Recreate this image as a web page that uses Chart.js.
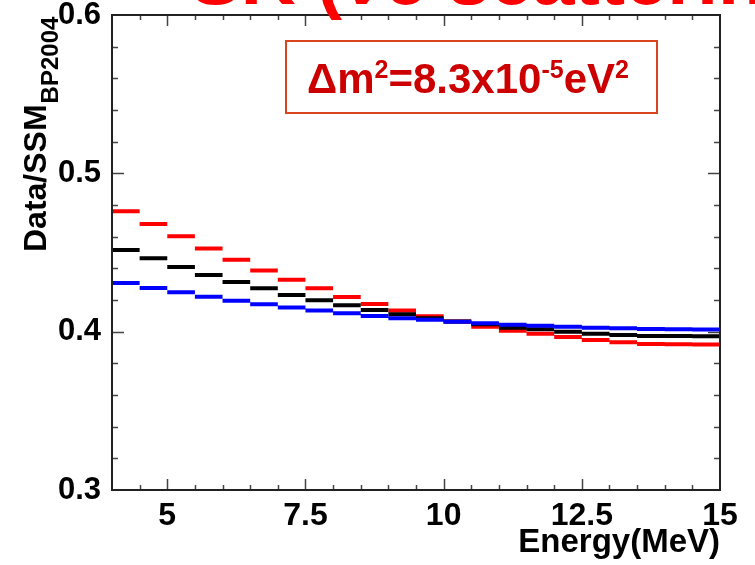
<!DOCTYPE html>
<html>
<head>
<meta charset="utf-8">
<script src="https://cdn.jsdelivr.net/npm/chart.js@4.4.0/dist/chart.umd.min.js"></script>
<style>
  html, body { margin: 0; padding: 0; background: #fff; }
</style>
</head>
<body>
<canvas id="c" width="755" height="565"></canvas>
<script>
// bins of 0.5 MeV, low edges
const binLow = [4, 4.5, 5, 5.5, 6, 6.5, 7, 7.5, 8, 8.5, 9, 9.5, 10, 10.5, 11, 11.5, 12, 12.5, 13, 13.5, 14, 14.5];
const binWidth = 0.5;

const redValues = [0.4760, 0.4680, 0.4602, 0.4526, 0.4455, 0.4387, 0.4328, 0.4274, 0.4219, 0.4175, 0.4133,
                   0.4097, 0.4065, 0.4031, 0.4006, 0.3987, 0.3966, 0.3947, 0.3933, 0.3922, 0.3920, 0.3919];
const blackValues = [0.4516, 0.4463, 0.4408, 0.4358, 0.4314, 0.4274, 0.4232, 0.4198, 0.4167, 0.4137, 0.4110,
                     0.4085, 0.4065, 0.4047, 0.4025, 0.4015, 0.4000, 0.3987, 0.3979, 0.3973, 0.3972, 0.3971];
const blueValues = [0.4307, 0.4276, 0.4249, 0.4221, 0.4196, 0.4173, 0.4152, 0.4133, 0.4116, 0.4099, 0.4084,
                    0.4076, 0.4063, 0.4053, 0.4044, 0.4038, 0.4031, 0.4025, 0.4021, 0.4017, 0.4015, 0.4013];

const xTicks = [5, 7.5, 10, 12.5, 15];
const xTickLabels = ['5', '7.5', '10', '12.5', '15'];
const yTicks = [0.3, 0.4, 0.5, 0.6];
const yTickLabels = ['0.3', '0.4', '0.5', '0.6'];

const FONT = '"Liberation Sans", Arial, Helvetica, sans-serif';

// one flat segment per bin, broken between bins
function steps(values) {
    const pts = [];
    values.forEach((v, i) => {
        pts.push({ x: binLow[i], y: v });
        pts.push({ x: binLow[i] + binWidth, y: v });
        pts.push({ x: binLow[i] + binWidth, y: null });
    });
    return pts;
}

function seg(values, color) {
    return {
        data: steps(values),
        borderColor: color,
        borderWidth: 4,
        borderCapStyle: 'butt',
        pointRadius: 0,
        tension: 0,
        spanGaps: false,
        fill: false
    };
}

// no extra room for overhanging tick labels
function noPad(s) {
    s.paddingTop = 0;
    s.paddingBottom = 0;
    s.paddingLeft = 0;
    s.paddingRight = 0;
}

// frame, inward ticks, titles and the box
const decor = {
    id: 'decor',
    afterDraw(chart) {
        const ctx = chart.ctx;
        const a = chart.chartArea;
        const xs = chart.scales.x;
        const ys = chart.scales.y;
        ctx.save();

        ctx.strokeStyle = '#444';
        ctx.lineWidth = 1.5;
        ctx.beginPath();
        for (let k = 1; k < 22; k++) {
            const e = 4 + k * 0.5;
            const px = Math.round(xs.getPixelForValue(e)) + 0.5;
            const len = (e % 2.5 === 0) ? 11 : 5;
            ctx.moveTo(px, a.bottom); ctx.lineTo(px, a.bottom - len);
            ctx.moveTo(px, a.top); ctx.lineTo(px, a.top + len);
        }
        for (let k = 1; k < 15; k++) {
            const py = Math.round(ys.getPixelForValue(0.3 + k * 0.02)) + 0.5;
            const len = (k % 5 === 0) ? 12 : 6;
            ctx.moveTo(a.left, py); ctx.lineTo(a.left + len, py);
            ctx.moveTo(a.right, py); ctx.lineTo(a.right - len, py);
        }
        ctx.stroke();

        ctx.strokeStyle = '#222';
        ctx.lineWidth = 2;
        ctx.strokeRect(a.left, a.top, a.right - a.left, a.bottom - a.top);

        // y title with subscript
        ctx.fillStyle = '#000';
        ctx.translate(46, 252);
        ctx.rotate(-Math.PI / 2);
        ctx.textAlign = 'left';
        ctx.textBaseline = 'alphabetic';
        ctx.font = 'bold 32px ' + FONT;
        ctx.fillText('Data/SSM', 0, 0);
        const w = ctx.measureText('Data/SSM').width;
        ctx.font = 'bold 24px ' + FONT;
        ctx.fillText('BP2004', w + 1, 12);
        ctx.restore();

        // box
        ctx.save();
        ctx.strokeStyle = '#d9441f';
        ctx.lineWidth = 2;
        ctx.strokeRect(286, 41, 371, 72);
        ctx.fillStyle = '#cc0000';
        ctx.textBaseline = 'alphabetic';
        ctx.textAlign = 'left';
        const big = 'bold 42px ' + FONT;
        const sup = 'bold 25px ' + FONT;
        const parts = [['Δm', big, 0], ['2', sup, -15], ['=8.3x10', big, 0], ['-5', sup, -15], ['eV', big, 0], ['2', sup, -15]];
        let x = 307;
        parts.forEach(([t, f, dy]) => {
            ctx.font = f;
            ctx.fillText(t, x, 93 + dy);
            x += ctx.measureText(t).width;
        });

        // clipped heading above the plot
        ctx.fillStyle = '#ff0000';
        ctx.font = 'bold 76px ' + FONT;
        ctx.fillText('SK (νe scattering)', 190, 4);
        ctx.restore();
    }
};

new Chart(document.getElementById('c').getContext('2d'), {
    type: 'line',
    data: {
        datasets: [
            seg(blueValues, '#0000ff'),
            seg(blackValues, '#000000'),
            seg(redValues, '#ff0000')
        ]
    },
    options: {
        responsive: false,
        animation: false,
        devicePixelRatio: 1,
        layout: { padding: { top: 15, right: 35, left: 0, bottom: 0 } },
        plugins: {
            legend: { display: false },
            tooltip: { enabled: false }
        },
        scales: {
            x: {
                type: 'linear',
                min: 4,
                max: 15,
                grid: { display: false, drawTicks: false },
                border: { display: false },
                afterBuildTicks: s => { s.ticks = xTicks.map(v => ({ value: v })); },
                afterFit: s => { s.height = 75; noPad(s); },
                ticks: {
                    autoSkip: false,
                    maxRotation: 0,
                    padding: 10,
                    color: '#000',
                    font: { family: FONT, size: 32, weight: 'bold', lineHeight: 1 },
                    callback: (v, i) => xTickLabels[i]
                },
                title: {
                    display: true,
                    text: 'Energy(MeV)',
                    align: 'end',
                    color: '#000',
                    font: { family: FONT, size: 33, weight: 'bold', lineHeight: 1 },
                    padding: { top: 0, bottom: 6 }
                }
            },
            y: {
                min: 0.3,
                max: 0.6,
                grid: { display: false, drawTicks: false },
                border: { display: false },
                afterBuildTicks: s => { s.ticks = yTicks.map(v => ({ value: v })); },
                afterFit: s => { s.width = 112; noPad(s); },
                ticks: {
                    padding: 11,
                    color: '#000',
                    font: { family: FONT, size: 31, weight: 'bold', lineHeight: 1 },
                    callback: (v, i) => yTickLabels[i]
                }
            }
        }
    },
    plugins: [decor]
});
</script>
</body>
</html>
